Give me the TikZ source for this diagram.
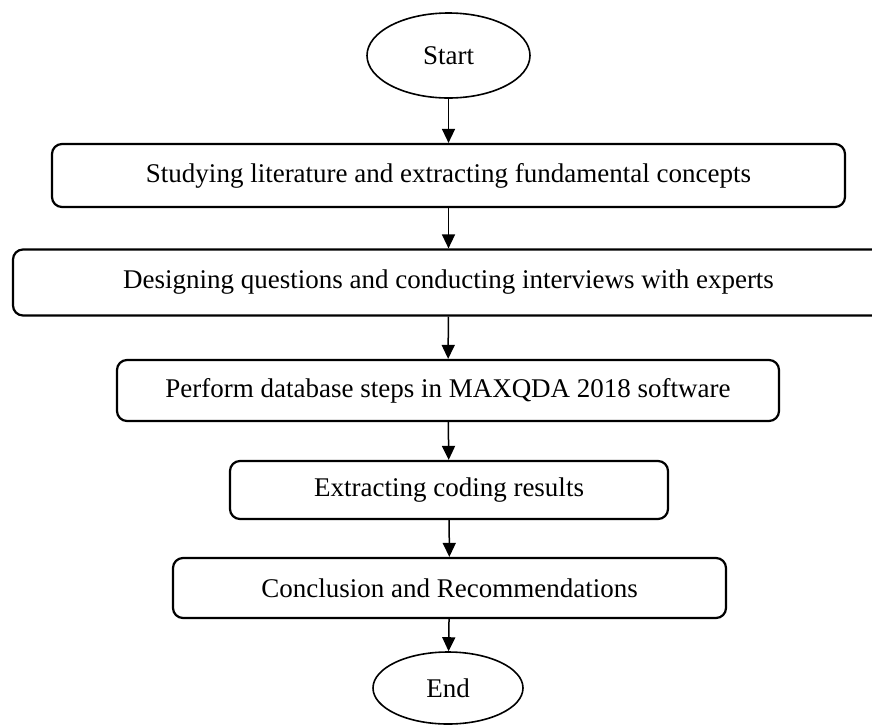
\documentclass[tikz,border=0pt]{standalone}
\usepackage{fontspec}
\setmainfont{Liberation Serif}
\usetikzlibrary{arrows.meta,shapes.geometric}
\begin{document}
\begin{tikzpicture}[x=1pt,y=-1pt,
  every node/.style={font=\fontsize{27}{32}\selectfont, inner sep=0pt},
  stepbox/.style={draw, rounded corners=10pt, line width=2.2pt},
  term/.style={draw, ellipse, line width=1.6pt},
  arr/.style={line width=1.5pt, -{Triangle[length=14pt,width=13pt]}}]
\useasboundingbox (0,0) rectangle (872,724);
\node[term, minimum width=163pt, minimum height=85pt] (start) at (448.5,55.5) {Start};
\node[stepbox, minimum width=793pt, minimum height=63pt] (b1) at (448.5,175.5) {Studying literature and extracting fundamental concepts};
\node[stepbox, minimum width=871pt, minimum height=66pt] (b2) at (448.5,282.5) {Designing questions and conducting interviews with experts};
\node[stepbox, minimum width=662pt, minimum height=61pt] (b3) at (448,390.5) {Perform database steps in MAXQDA 2018 software};
\node[stepbox, minimum width=438pt, minimum height=58pt] (b4) at (449,490) {Extracting coding results};
\node[stepbox, minimum width=553pt, minimum height=60pt] (b5) at (449.5,588) {Conclusion and Recommendations};
\node[term, minimum width=150pt, minimum height=72pt] (end) at (448,688) {End};
\draw[arr] (start) -- (b1);
\draw[arr] (b1) -- (b2);
\draw[arr] (b2) -- (b3);
\draw[arr] (b3) -- (b4);
\draw[arr] (b4) -- (b5);
\draw[arr] (b5) -- (end);
\end{tikzpicture}
\end{document}
